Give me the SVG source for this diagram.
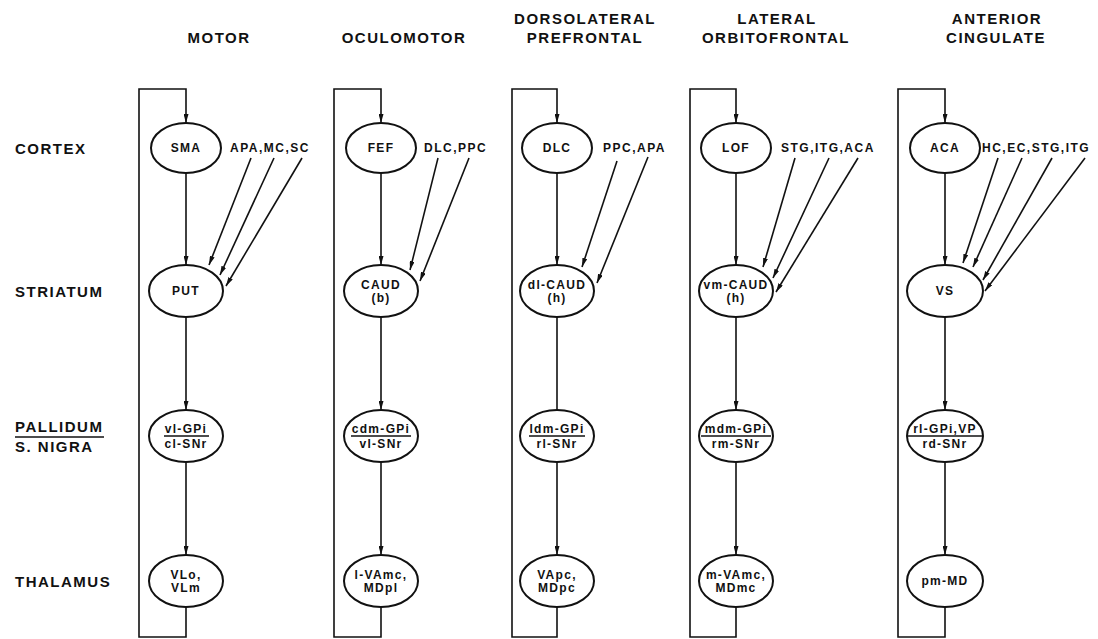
<svg xmlns="http://www.w3.org/2000/svg" width="1098" height="639" viewBox="0 0 1098 639">
<style>
text{font-family:"Liberation Sans",Arial,sans-serif;font-weight:bold;fill:#111}
.hdr{font-size:15px;letter-spacing:1.5px;text-anchor:middle}
.row{font-size:15px;letter-spacing:1.5px}
.nt{font-size:12px;letter-spacing:1.3px;text-anchor:middle}
.lbl{font-size:12px;letter-spacing:1.5px}
ellipse{fill:#fff;stroke:#111;stroke-width:2}
.ln{fill:none;stroke:#111;stroke-width:1.6}
.bar{stroke:#111;stroke-width:1.6}
</style>
<defs>
<marker id="ah" viewBox="0 0 9 5" refX="9" refY="2.5" markerWidth="9" markerHeight="5" markerUnits="userSpaceOnUse" orient="auto">
<path d="M0,0 L9,2.5 L0,5 z" fill="#111"/>
</marker>
</defs>
<rect width="1098" height="639" fill="#fff"/>

<g id="headers">
<text class="hdr" x="219" y="43">MOTOR</text>
<text class="hdr" x="404" y="43">OCULOMOTOR</text>
<text class="hdr" x="585" y="24">DORSOLATERAL</text>
<text class="hdr" x="585" y="43">PREFRONTAL</text>
<text class="hdr" x="777" y="24">LATERAL</text>
<text class="hdr" x="776" y="43">ORBITOFRONTAL</text>
<text class="hdr" x="997" y="24">ANTERIOR</text>
<text class="hdr" x="996" y="43">CINGULATE</text>
</g>

<g id="row-labels">
<text class="row" x="15" y="154">CORTEX</text>
<text class="row" x="15" y="297">STRIATUM</text>
<text class="row" x="15" y="432">PALLIDUM</text>
<line class="bar" x1="15" y1="437" x2="104" y2="437"/>
<text class="row" x="15" y="452">S. NIGRA</text>
<text class="row" x="15" y="587">THALAMUS</text>
</g>

<g id="connectors">
<!-- feedback loops -->
<path class="ln" d="M186,607 V637 H139 V89 H186 V123" marker-end="url(#ah)"/>
<path class="ln" d="M381,607 V637 H334 V89 H381 V123" marker-end="url(#ah)"/>
<path class="ln" d="M557,607 V637 H512 V89 H557 V123" marker-end="url(#ah)"/>
<path class="ln" d="M736,607 V637 H690 V89 H736 V123" marker-end="url(#ah)"/>
<path class="ln" d="M945,607 V637 H898 V89 H945 V123" marker-end="url(#ah)"/>
<!-- vertical chains -->
<line class="ln" x1="186" y1="173" x2="186" y2="265" marker-end="url(#ah)"/>
<line class="ln" x1="186" y1="317" x2="186" y2="410" marker-end="url(#ah)"/>
<line class="ln" x1="186" y1="462" x2="186" y2="555" marker-end="url(#ah)"/>
<line class="ln" x1="381" y1="173" x2="381" y2="265" marker-end="url(#ah)"/>
<line class="ln" x1="381" y1="317" x2="381" y2="410" marker-end="url(#ah)"/>
<line class="ln" x1="381" y1="462" x2="381" y2="555" marker-end="url(#ah)"/>
<line class="ln" x1="557" y1="173" x2="557" y2="265" marker-end="url(#ah)"/>
<line class="ln" x1="557" y1="317" x2="557" y2="410"/>
<line class="ln" x1="557" y1="462" x2="557" y2="555" marker-end="url(#ah)"/>
<line class="ln" x1="736" y1="173" x2="736" y2="265" marker-end="url(#ah)"/>
<line class="ln" x1="736" y1="317" x2="736" y2="410" marker-end="url(#ah)"/>
<line class="ln" x1="736" y1="462" x2="736" y2="555" marker-end="url(#ah)"/>
<line class="ln" x1="945" y1="173" x2="945" y2="265" marker-end="url(#ah)"/>
<line class="ln" x1="945" y1="317" x2="945" y2="410" marker-end="url(#ah)"/>
<line class="ln" x1="945" y1="462" x2="945" y2="555" marker-end="url(#ah)"/>
<!-- cortical inputs -->
<line class="ln" x1="251" y1="158" x2="209" y2="265" marker-end="url(#ah)"/>
<line class="ln" x1="274" y1="158" x2="220" y2="275" marker-end="url(#ah)"/>
<line class="ln" x1="302" y1="158" x2="226" y2="286" marker-end="url(#ah)"/>
<line class="ln" x1="438" y1="158" x2="410" y2="270" marker-end="url(#ah)"/>
<line class="ln" x1="469" y1="158" x2="420" y2="281" marker-end="url(#ah)"/>
<line class="ln" x1="617" y1="161" x2="582" y2="267" marker-end="url(#ah)"/>
<line class="ln" x1="648" y1="157" x2="597" y2="283" marker-end="url(#ah)"/>
<line class="ln" x1="795" y1="158" x2="763" y2="267" marker-end="url(#ah)"/>
<line class="ln" x1="829" y1="158" x2="773" y2="278" marker-end="url(#ah)"/>
<line class="ln" x1="858" y1="158" x2="776" y2="292" marker-end="url(#ah)"/>
<line class="ln" x1="998" y1="158" x2="963" y2="263" marker-end="url(#ah)"/>
<line class="ln" x1="1022" y1="158" x2="973" y2="267" marker-end="url(#ah)"/>
<line class="ln" x1="1052" y1="158" x2="983" y2="280" marker-end="url(#ah)"/>
<line class="ln" x1="1085" y1="158" x2="985" y2="291" marker-end="url(#ah)"/>
</g>

<!-- MOTOR -->
<g id="SMA"><ellipse cx="186" cy="148" rx="35" ry="25"/><text class="nt" x="186" y="152">SMA</text></g>
<g id="SMA-inputs"><text class="lbl" x="230" y="152">APA,MC,SC</text></g>
<g id="PUT"><ellipse cx="186" cy="291" rx="37" ry="26"/><text class="nt" x="186" y="295">PUT</text></g>
<g id="vl-GPi"><ellipse cx="186" cy="436" rx="37" ry="26"/><text class="nt" x="186" y="433">vl-GPi</text><line class="bar" x1="164" y1="436" x2="209" y2="436"/><text class="nt" x="186" y="448">cl-SNr</text></g>
<g id="VLo-VLm"><ellipse cx="186" cy="581" rx="37" ry="26"/><text class="nt" x="186" y="579">VLo,</text><text class="nt" x="186" y="592">VLm</text></g>

<!-- OCULOMOTOR -->
<g id="FEF"><ellipse cx="381" cy="148" rx="35" ry="25"/><text class="nt" x="381" y="152">FEF</text></g>
<g id="FEF-inputs"><text class="lbl" x="424" y="152">DLC,PPC</text></g>
<g id="CAUD-b"><ellipse cx="381" cy="291" rx="37" ry="26"/><text class="nt" x="381" y="289">CAUD</text><text class="nt" x="381" y="302">(b)</text></g>
<g id="cdm-GPi"><ellipse cx="381" cy="436" rx="37" ry="26"/><text class="nt" x="381" y="433">cdm-GPi</text><line class="bar" x1="351" y1="436" x2="411" y2="436"/><text class="nt" x="381" y="448">vl-SNr</text></g>
<g id="l-VAmc"><ellipse cx="381" cy="581" rx="37" ry="26"/><text class="nt" x="381" y="579">l-VAmc,</text><text class="nt" x="381" y="592">MDpl</text></g>

<!-- DORSOLATERAL PREFRONTAL -->
<g id="DLC"><ellipse cx="557" cy="148" rx="35" ry="25"/><text class="nt" x="557" y="152">DLC</text></g>
<g id="DLC-inputs"><text class="lbl" x="603" y="152">PPC,APA</text></g>
<g id="dl-CAUD"><ellipse cx="557" cy="291" rx="37" ry="26"/><text class="nt" x="557" y="289">dl-CAUD</text><text class="nt" x="557" y="302">(h)</text></g>
<g id="ldm-GPi"><ellipse cx="557" cy="436" rx="37" ry="26"/><text class="nt" x="557" y="433">ldm-GPi</text><line class="bar" x1="529" y1="436" x2="585" y2="436"/><text class="nt" x="557" y="448">rl-SNr</text></g>
<g id="VApc"><ellipse cx="557" cy="581" rx="37" ry="26"/><text class="nt" x="557" y="579">VApc,</text><text class="nt" x="557" y="592">MDpc</text></g>

<!-- LATERAL ORBITOFRONTAL -->
<g id="LOF"><ellipse cx="736" cy="148" rx="35" ry="25"/><text class="nt" x="736" y="152">LOF</text></g>
<g id="LOF-inputs"><text class="lbl" x="781" y="152">STG,ITG,ACA</text></g>
<g id="vm-CAUD"><ellipse cx="736" cy="291" rx="37" ry="26"/><text class="nt" x="736" y="289">vm-CAUD</text><text class="nt" x="736" y="302">(h)</text></g>
<g id="mdm-GPi"><ellipse cx="736" cy="436" rx="37" ry="26"/><text class="nt" x="736" y="433">mdm-GPi</text><line class="bar" x1="701" y1="436" x2="771" y2="436"/><text class="nt" x="736" y="448">rm-SNr</text></g>
<g id="m-VAmc"><ellipse cx="736" cy="581" rx="37" ry="26"/><text class="nt" x="736" y="579">m-VAmc,</text><text class="nt" x="736" y="592">MDmc</text></g>

<!-- ANTERIOR CINGULATE -->
<g id="ACA"><ellipse cx="945" cy="148" rx="35" ry="25"/><text class="nt" x="945" y="152">ACA</text></g>
<g id="ACA-inputs"><text class="lbl" x="982" y="152">HC,EC,STG,ITG</text></g>
<g id="VS"><ellipse cx="945" cy="291" rx="38" ry="26"/><text class="nt" x="945" y="295">VS</text></g>
<g id="rl-GPi"><ellipse cx="945" cy="436" rx="38" ry="26"/><text class="nt" x="945" y="433">rl-GPi,VP</text><line class="bar" x1="908" y1="436" x2="982" y2="436"/><text class="nt" x="945" y="448">rd-SNr</text></g>
<g id="pm-MD"><ellipse cx="945" cy="581" rx="38" ry="26"/><text class="nt" x="945" y="585">pm-MD</text></g>
</svg>
